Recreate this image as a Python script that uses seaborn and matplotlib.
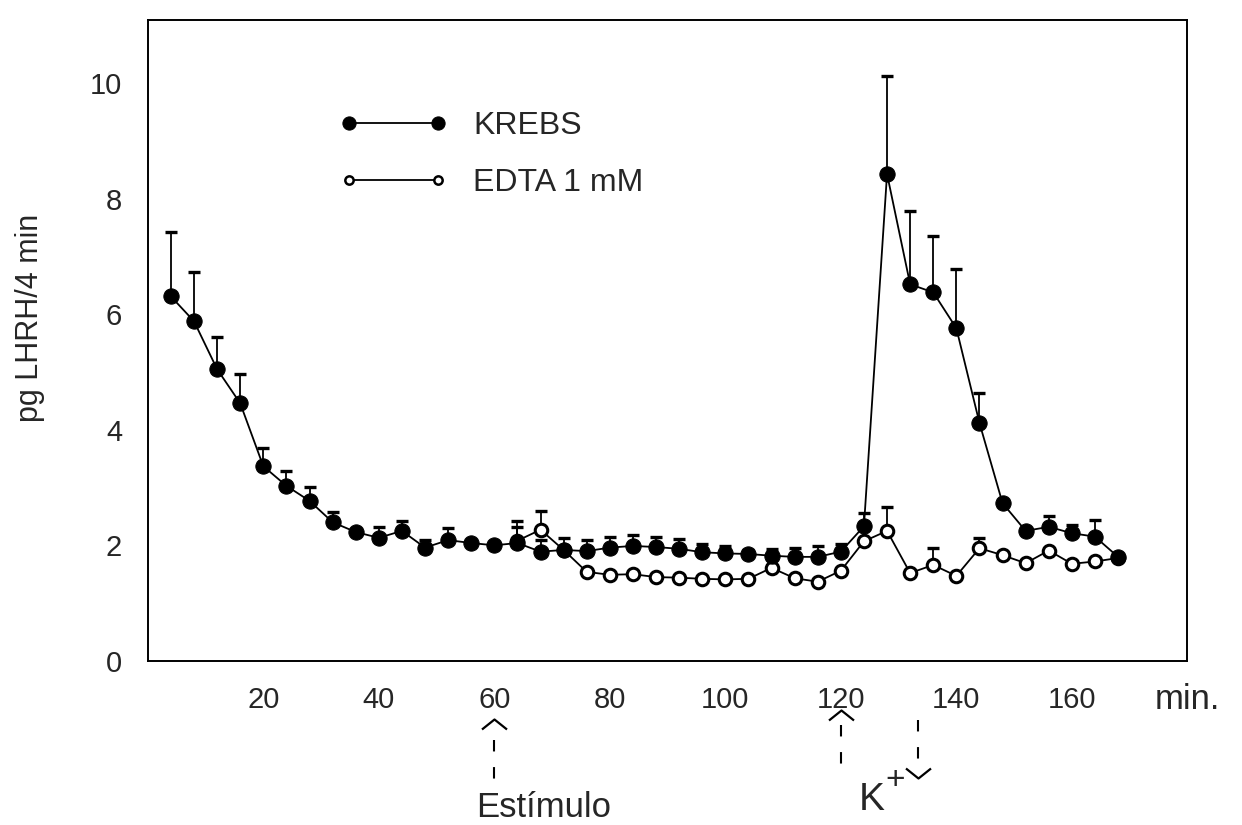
import numpy as np
import pandas as pd
import matplotlib
matplotlib.use('Agg')
import matplotlib.pyplot as plt
import matplotlib.transforms as mtransforms
from matplotlib.path import Path
import seaborn as sns

# Data (minutes, pg LHRH / 4 min)
krebs_time = list(range(4, 172, 4))
krebs_mean = [6.31, 5.88, 5.05, 4.46, 3.37, 3.03, 2.77, 2.40, 2.23, 2.13, 2.25, 1.96,
              2.09, 2.04, 2.00, 2.04, 1.89, 1.92, 1.90, 1.96, 1.99, 1.97, 1.94, 1.88,
              1.86, 1.85, 1.82, 1.80, 1.80, 1.89, 2.33, 8.43, 6.52, 6.38, 5.76, 4.12,
              2.73, 2.25, 2.32, 2.21, 2.15, 1.80]
krebs_upper = [7.42, 6.73, 5.60, 4.97, 3.68, 3.29, 3.01, 2.58, 2.28, 2.32, 2.42, 2.10,
               2.30, 2.08, 2.02, 2.42, 2.10, 2.13, 2.09, 2.15, 2.18, 2.14, 2.11, 2.02,
               1.98, 1.92, 1.94, 1.95, 1.99, 2.02, 2.56, 10.12, 7.79, 7.35, 6.78, 4.64,
               2.73, 2.25, 2.51, 2.35, 2.44, 1.80]

edta_time = list(range(64, 172, 4))
edta_mean = [2.08, 2.27, 1.92, 1.54, 1.49, 1.50, 1.45, 1.44, 1.42, 1.41, 1.42, 1.61,
             1.43, 1.37, 1.56, 2.07, 2.25, 1.52, 1.66, 1.47, 1.95, 1.83, 1.69, 1.91,
             1.68, 1.72, 1.78]
edta_upper = [2.32, 2.60, 1.92, 1.54, 1.49, 1.50, 1.45, 1.44, 1.42, 1.41, 1.42, 1.61,
              1.43, 1.37, 1.56, 2.07, 2.66, 1.52, 1.95, 1.47, 2.13, 1.83, 1.69, 1.91,
              1.68, 1.72, 1.78]

x_ticks = [20, 40, 60, 80, 100, 120, 140, 160]
y_ticks = [0, 2, 4, 6, 8, 10]
stimulus_time = 60
k_on_time = 120
k_off_time = 133.4

krebs = pd.DataFrame({'time': krebs_time, 'value': krebs_mean, 'upper': krebs_upper})
edta = pd.DataFrame({'time': edta_time, 'value': edta_mean, 'upper': edta_upper})

sns.set_style('white')
plt.rcParams['font.family'] = ['Liberation Sans', 'DejaVu Sans']

fig = plt.figure(figsize=(12.42, 8.25), dpi=100)
ax = fig.add_axes([0.119, 0.199, 0.837, 0.777])

# upper error bars only (SEM drawn upwards)
for df in (edta, krebs):
    ax.errorbar(df['time'], df['value'], yerr=[np.zeros(len(df)), df['upper'] - df['value']],
                fmt='none', ecolor='black', elinewidth=1.3, capsize=4.5, capthick=2.4, zorder=2)

sns.lineplot(data=edta, x='time', y='value', ax=ax, color='black', linewidth=1.3,
             marker='o', markersize=9, markerfacecolor='white', markeredgecolor='black',
             markeredgewidth=2.2, label='EDTA 1 mM', zorder=3)
sns.lineplot(data=krebs, x='time', y='value', ax=ax, color='black', linewidth=1.3,
             marker='o', markersize=11, markerfacecolor='black', markeredgecolor='black',
             label='KREBS', zorder=4)

ax.set_xlim(0, 180)
ax.set_ylim(0, 11.1)
ax.set_xticks(x_ticks)
ax.set_yticks(y_ticks)
ax.tick_params(axis='y', direction='inout', length=17, width=1.3, labelsize=21, pad=10)
ax.tick_params(axis='x', direction='inout', length=10, width=1.3, labelsize=21, pad=13)
ax.set_xlabel('')
ax.set_ylabel('pg LHRH/4 min', fontsize=22)
ax.yaxis.set_label_coords(-0.099, 0.535)
for s in ax.spines.values():
    s.set_linewidth(1.4)
    s.set_color('black')

handles, labels = ax.get_legend_handles_labels()
order = [labels.index('KREBS'), labels.index('EDTA 1 mM')]
leg = ax.legend([handles[i] for i in order], [labels[i] for i in order], loc='center left',
                bbox_to_anchor=(0.157, 0.79), frameon=False, fontsize=23, numpoints=2,
                handlelength=3.38, handletextpad=0.79, labelspacing=0.84)
leg.legend_handles[0].set_markersize(9.5)
leg.legend_handles[1].set_markersize(6)
leg.legend_handles[1].set_markeredgewidth(1.8)
for h in leg.legend_handles:
    h.set_linewidth(1.3)

ax.text(1.0, -0.061, 'min.', transform=ax.transAxes, ha='center', va='center', fontsize=25)

# arrows under the axis: dashed shaft + open caret head
trans = mtransforms.blended_transform_factory(ax.transData, ax.transAxes)
caret_up = Path([(-1, -0.8), (0, 0), (1, -0.8)], [Path.MOVETO, Path.LINETO, Path.LINETO])
caret_down = Path([(-1, 0.8), (0, 0), (1, 0.8)], [Path.MOVETO, Path.LINETO, Path.LINETO])
dash = dict(color='black', linewidth=1.5, linestyle=(0, (5.5, 7.5)), transform=trans, clip_on=False)
head = dict(color='black', markersize=18, markeredgewidth=1.6, markerfacecolor='none',
            linestyle='none', transform=trans, clip_on=False)

ax.plot([stimulus_time, stimulus_time], [-0.1232, -0.1856], **dash)
ax.plot([stimulus_time], [-0.0905], marker=caret_up, **head)
ax.text(68.5, -0.2293, 'Estímulo', transform=trans, ha='center', va='center', fontsize=25)

ax.plot([k_on_time, k_on_time], [-0.0998, -0.170], **dash)
ax.plot([k_on_time], [-0.0764], marker=caret_up, **head)
ax.plot([k_off_time, k_off_time], [-0.092, -0.1654], **dash)
ax.plot([k_off_time], [-0.1825], marker=caret_down, **head)
ax.text(125.3, -0.2168, 'K', transform=trans, ha='center', va='center', fontsize=28)
ax.text(129.4, -0.187, '+', transform=trans, ha='center', va='center', fontsize=24)

fig.savefig('out.png', dpi=100)
